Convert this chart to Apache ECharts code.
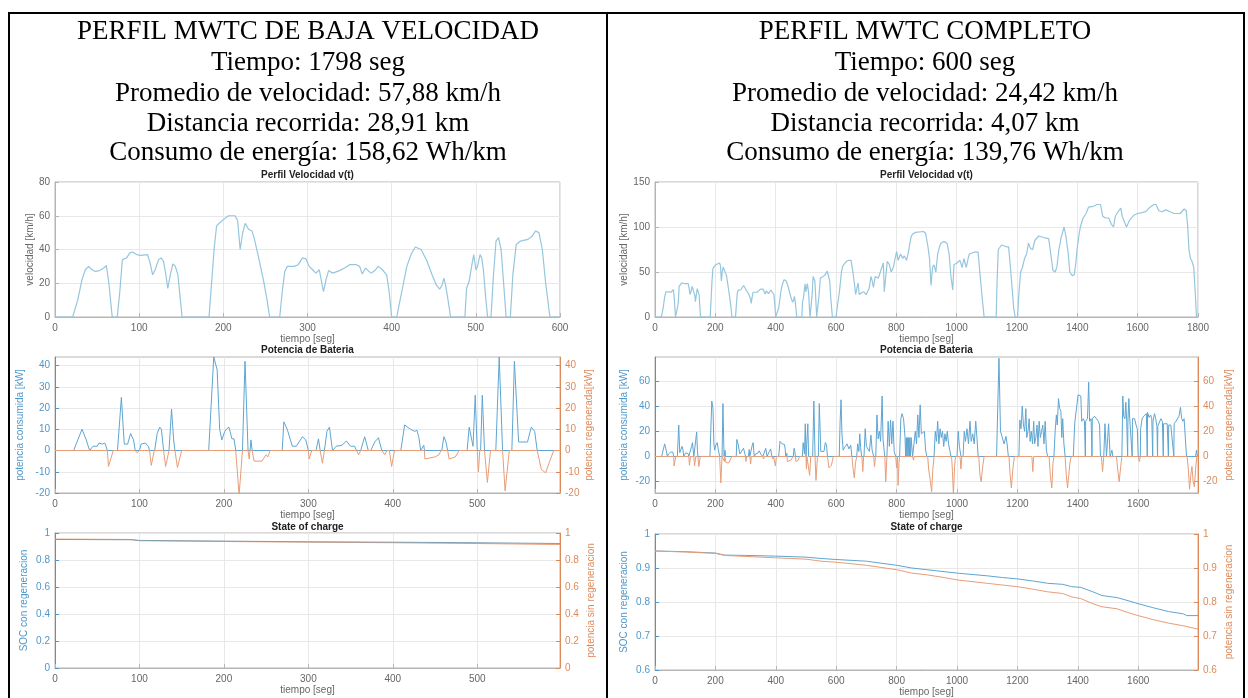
<!DOCTYPE html>
<html><head><meta charset="utf-8">
<script src="https://cdn.jsdelivr.net/npm/echarts@6/dist/echarts.min.js"></script>
<style>html,body{margin:0;padding:0;background:#fff}#c{width:1248px;height:698px}</style>
</head><body><div id="c"></div><script>
// ---------- header texts ----------
const headerLeft = ['PERFIL MWTC DE BAJA VELOCIDAD','Tiempo: 1798 seg','Promedio de velocidad: 57,88 km/h','Distancia recorrida: 28,91 km','Consumo de energía: 158,62 Wh/km'];
const headerRight = ['PERFIL MWTC COMPLETO','Tiempo: 600 seg','Promedio de velocidad: 24,42 km/h','Distancia recorrida: 4,07 km','Consumo de energía: 139,76 Wh/km'];
const plotTitles = ['Perfil Velocidad v(t)','Potencia de Bateria','State of charge'];

// ---------- tick labels ----------
const ticksTimeLow = [0,100,200,300,400,500,600];
const ticksTimeLowB = [0,100,200,300,400,500];
const ticksTimeFull = [0,200,400,600,800,1000,1200,1400,1600,1800];
const ticksTimeFullB = [0,200,400,600,800,1000,1200,1400,1600];
const ticksVelLow = [0,20,40,60,80];
const ticksVelFull = [0,50,100,150];
const ticksPowLow = [-20,-10,0,10,20,30,40];
const ticksPowFull = [-20,0,20,40,60];
const ticksSocLow = [0,0.2,0.4,0.6,0.8,1];
const ticksSocFull = [0.6,0.7,0.8,0.9,1];

// ---------- velocity [t, km/h] ----------
const lowSpeedProfile = [[0,0],[21,0],[27,10],[32,22],[36,28],[40,30],[44,28],[48,27],[53,27.5],[58,29],[61,30.5],[64,20],[68,0],[74,0],[77,15],[80,34],[85,35],[89,38],[92,38.5],[97,37],[102,36.5],[110,37],[113,32],[116,25],[119,28],[123,34],[126,35],[129,33],[132,24],[134,17],[137,25],[140,31.5],[143,30],[146,25],[149,10],[151,0],[183,0],[186,20],[189,40],[192,54],[196,56],[201,58],[206,60],[214,60],[217,57],[220,40],[223,50],[226,55.5],[230,52],[234,51],[237,46],[242,35],[248,21],[252,10],[255,0],[267,0],[270,15],[273,27],[276,30],[284,30],[289,31],[294,35],[298,34.5],[302,30],[306,28],[310,26],[314,28],[317,20],[319,15],[322,22],[325,27.5],[330,26],[338,27.5],[344,29],[350,31],[358,31],[362,30],[365,25.5],[369,29],[373,27],[376,26],[381,28],[384,30],[389,28],[394,25],[397,15],[400,0],[406,0],[410,10],[414,20],[418,30],[423,37],[428,41.5],[435,40],[442,33],[448,25],[453,19],[457,16.5],[460,19],[462,23],[464,19],[467,10],[470,0],[487,0],[489,17],[492,21],[495,30],[497.5,37],[500,28],[502,30],[505,37],[507,35],[509,28],[512,10],[514,0],[518,0],[521,25],[524,45],[527,47],[530,40],[533,20],[536,0],[541,0],[544,25],[548,43],[553,45],[562,46],[567,48],[571,51],[575,50],[579,40],[583,20],[588,0],[600,0]];
const fullSpeedRest = [[606,0],[612,30],[618,50],[623,57],[635,62],[643,63],[650,63],[655,52],[660,40],[665,25],[669,27],[673,38],[677,25],[685,27],[692,28],[700,25],[710,32],[716,45],[720,40],[724,33],[730,45],[740,43],[750,53],[757,60],[760,28],[765,45],[770,62],[777,58],[783,50],[790,55],[796,65],[801,73],[806,63],[814,70],[821,65],[826,68],[834,63],[840,72],[844,80],[848,88],[853,92],[864,94],[890,95],[897,93],[904,80],[910,65],[915,35],[920,55],[925,58],[931,50],[937,70],[943,78],[948,82],[957,84],[968,82],[975,70],[981,45],[987,30],[991,58],[1001,60],[1011,63],[1018,55],[1024,65],[1032,55],[1038,65],[1042,70],[1058,72],[1064,70],[1071,72],[1078,45],[1085,20],[1091,0],[1131,0],[1134,40],[1138,75],[1149,80],[1165,78],[1172,78],[1177,60],[1182,40],[1189,10],[1194,0],[1202,0],[1206,25],[1212,50],[1218,55],[1225,65],[1232,70],[1238,82],[1245,76],[1252,75],[1259,85],[1272,90],[1292,88],[1305,87],[1312,70],[1319,52],[1326,50],[1332,55],[1339,75],[1346,88],[1352,95],[1356,100],[1362,90],[1370,70],[1375,50],[1383,46],[1390,47],[1395,60],[1399,75],[1405,90],[1410,100],[1419,110],[1429,115],[1437,122],[1453,123],[1466,125],[1477,125],[1484,112],[1493,110],[1504,110],[1513,103],[1520,100],[1526,112],[1537,118],[1544,121],[1549,112],[1553,110],[1557,105],[1563,100],[1567,98],[1574,108],[1587,113],[1600,115],[1614,116],[1627,117],[1641,122],[1654,125],[1661,125],[1670,118],[1680,117],[1694,119],[1707,117],[1721,115],[1741,115],[1754,120],[1761,118],[1766,100],[1770,75],[1775,65],[1780,62],[1786,55],[1792,20],[1795,0],[1798,0]];

// ---------- battery power [t, kW] ----------
const lowPowerConsumed = [[0,0],[22,0],[32,10],[37,5],[39,4.5],[41,0],[45,2],[50,2],[52,3.5],[56,3],[59,3.5],[60,2.5],[62,0],[74,0],[78.6,25],[82,3],[86,3],[89.5,8],[93,5],[95,0],[100,0],[102,3],[107,3.5],[110.5,2],[112,0],[118,0],[121,8],[124,11],[126,10],[128.6,0],[135,0],[138,19.5],[140.5,5],[142,0],[182,0],[188,44],[192,38],[195,10],[197.6,5],[201,9],[203,10],[206,11],[209.5,5.5],[212,5.5],[214,0],[222,0],[225,42],[228.6,0],[231,0],[232,5],[233.5,0],[269,0],[271,13.5],[275,10],[281,2],[285.7,2],[293,6.5],[297,5],[300,0],[309,0],[312,5.5],[314,0],[319,0],[322,9],[325,11],[328.6,0],[330,0],[333,2],[340,2.5],[345,4.5],[350,2],[354.8,2],[357,0],[362,0],[366.7,6.5],[371,0],[374,0],[378.6,4],[383,6],[387,0],[409.5,0],[414,12],[421,10],[426,9],[428.6,9.5],[431,6],[433,0],[435,0],[436.7,2.5],[437.5,0],[458,0],[460.5,6.5],[463,4],[465,0],[488,0],[490.5,11],[495,2],[497.6,26],[500,0],[504,0],[506,26],[508.6,0],[522,0],[526,44],[530,0],[541,0],[544,42],[549,4],[559.5,4],[564,11],[568,9],[571,0],[598,0]];
const lowPowerRegen = [[0,0],[62,0],[63.3,-7.5],[69,0],[95,0],[97,-1],[100,0],[112,0],[114,-7],[117.6,0],[128.6,0],[131,-7.5],[135,0],[142,0],[145,-8],[150,0],[214,0],[218,-21],[222,0],[228.6,0],[230,-4],[231,0],[233.5,0],[235.7,-5],[245,-5],[250,-2],[252,-3],[254.8,0],[300,0],[301,-4],[304,0],[314,0],[316.7,-6],[319,0],[357,0],[359.5,-2],[362,0],[387,0],[390.5,-2],[393,0],[396,0],[398.6,-7.5],[402,0],[437.5,0],[438,-4],[450,-3],[454.8,-2],[457,0],[465,0],[466.7,-4],[474,-3],[478.6,0],[500,0],[501.4,-10],[503,0],[508.6,0],[512,-15],[515.7,0],[530,0],[533,-19],[538,0],[571,0],[576,-9],[581,-10.5],[584,-7],[590.5,0],[598,0]];
const fullPowerConsumedRest = [[600,0],[610,0],[613,28],[616,45],[619,18],[623,5],[630,8],[636,10],[642,6],[648,9],[652,0],[668,0],[671,10],[675,4],[678,18],[681,7],[684,0],[692,0],[696,22],[700,8],[705,8],[710,4],[715,17],[719,5],[724,0],[731,0],[735,33],[739,14],[743,20],[747,12],[752,48],[755,14],[759,4],[761,0],[768,0],[772,28],[776,8],[780,29],[784,10],[788,28],[792,4],[797,0],[810,0],[814,30],[818,34],[823,30],[828,15],[830,0],[832,15],[834,0],[836,15],[838,0],[840,15],[842,0],[844,15],[846,0],[848,15],[851,15],[853,0],[858,0],[862,20],[866,10],[870,33],[874,15],[878,41],[882,18],[887,17],[892,20],[896,5],[900,0],[924,0],[928,20],[932,12],[936,28],[940,10],[944,22],[948,15],[952,20],[956,8],[960,18],[964,12],[968,20],[972,10],[976,5],[980,0],[1000,0],[1004,20],[1008,8],[1013,0],[1020,0],[1024,20],[1028,12],[1033,22],[1038,10],[1043,28],[1047,12],[1052,18],[1057,10],[1062,28],[1066,15],[1070,0],[1131,0],[1135,40],[1139,78],[1142,78],[1144,20],[1150,20],[1156,10],[1162,16],[1166,10],[1170,0],[1205,0],[1208,29],[1212,22],[1216,40],[1220,25],[1224,20],[1228,38],[1231,15],[1235,20],[1239,30],[1242,12],[1246,20],[1250,10],[1254,28],[1257,10],[1261,15],[1265,25],[1268,8],[1272,28],[1276,15],[1280,20],[1284,25],[1288,10],[1292,28],[1296,5],[1300,0],[1321,0],[1325,20],[1329,33],[1332,25],[1336,46],[1340,38],[1344,36],[1347,15],[1350,30],[1354,10],[1358,0],[1385,0],[1390,27],[1396,28],[1401,49],[1406,49],[1410,48],[1413,28],[1418,30],[1422,28],[1425,0],[1426,28],[1432,30],[1436,59],[1439,28],[1444,30],[1447,0],[1448,30],[1455,32],[1462,30],[1468,28],[1472,25],[1475,0],[1486,0],[1490,26],[1493,26],[1495,0],[1497,0],[1499,15],[1502,26],[1505,26],[1507,0],[1510,0],[1513,5],[1516,0],[1546,0],[1549,48],[1552,32],[1556,30],[1559,43],[1562,28],[1565,0],[1566,28],[1569,46],[1572,30],[1576,31],[1580,0],[1581,30],[1588,30],[1593,25],[1597,22],[1600,0],[1607,0],[1608,22],[1613,30],[1618,32],[1623,31],[1627,34],[1630,0],[1631,35],[1636,31],[1641,33],[1645,30],[1648,0],[1649,28],[1654,34],[1658,30],[1662,24],[1664,0],[1665,24],[1670,25],[1675,30],[1680,28],[1683,0],[1684,26],[1690,25],[1696,26],[1700,0],[1701,25],[1708,25],[1714,26],[1718,0],[1719,26],[1725,28],[1730,29],[1735,32],[1740,39],[1744,30],[1748,28],[1752,30],[1756,29],[1760,0],[1790,0],[1793,5],[1796,0],[1798,0]];
const fullPowerRegenRest = [[600,0],[652,0],[656,-10],[660,-17],[664,-5],[668,0],[685,0],[688,-12],[691,0],[724,0],[727,-8],[730,0],[761,0],[764,-20],[768,0],[797,0],[800,-9],[803,0],[805,-23],[808,-5],[810,0],[853,0],[856,-3],[858,0],[903,0],[906,-10],[912,-20],[916,-28],[920,-10],[924,0],[982,0],[985,-12],[988,-30],[992,-8],[995,0],[1010,0],[1013,-10],[1016,0],[1072,0],[1076,-15],[1080,-20],[1085,-8],[1090,0],[1172,0],[1176,-15],[1180,-25],[1185,-10],[1190,0],[1248,0],[1251,-12],[1254,0],[1305,0],[1309,-15],[1314,-25],[1318,-5],[1321,0],[1358,0],[1362,-15],[1366,-25],[1370,-15],[1374,-5],[1378,0],[1478,0],[1482,-12],[1486,0],[1528,0],[1532,-10],[1537,-20],[1542,-8],[1546,0],[1600,0],[1604,-4],[1607,0],[1762,0],[1766,-10],[1770,-26],[1774,-15],[1778,-8],[1782,-20],[1786,-24],[1790,-10],[1794,0],[1798,0]];

// ---------- state of charge [t, SOC] ----------
const lowSocRegen = [[0,0.952],[90,0.95],[100,0.945],[200,0.94],[300,0.935],[400,0.932],[500,0.928],[598,0.922]];
const lowSocNoRegen = [[0,0.955],[90,0.952],[100,0.943],[200,0.937],[300,0.932],[400,0.928],[500,0.922],[598,0.915]];
const fullSocRegen = [[0,0.95],[100,0.948],[200,0.944],[230,0.938],[300,0.937],[400,0.935],[500,0.932],[550,0.928],[600,0.925],[700,0.92],[800,0.908],[850,0.9],[900,0.895],[950,0.89],[1000,0.885],[1100,0.877],[1150,0.872],[1200,0.868],[1250,0.862],[1300,0.855],[1350,0.852],[1380,0.845],[1410,0.843],[1450,0.83],[1480,0.819],[1530,0.813],[1570,0.803],[1600,0.795],[1650,0.783],[1700,0.772],[1750,0.765],[1760,0.76],[1798,0.76]];
const fullSocNoRegen = [[0,0.95],[100,0.947],[200,0.943],[230,0.937],[300,0.934],[400,0.93],[450,0.928],[500,0.926],[550,0.92],[600,0.917],[700,0.908],[800,0.895],[850,0.885],[900,0.88],[950,0.873],[1000,0.865],[1100,0.855],[1150,0.85],[1200,0.845],[1250,0.838],[1300,0.83],[1350,0.825],[1380,0.815],[1410,0.81],[1450,0.795],[1480,0.786],[1530,0.78],[1570,0.768],[1600,0.76],[1650,0.748],[1700,0.738],[1750,0.73],[1798,0.72]];

// ---------- styling ----------
const FONT = 'Liberation Sans, Arial, sans-serif';
const GRAY = '#666666', BLUE_T = '#4f97c9', ORANGE_T = '#dd8a5a';
const C_VEL = '#95c6dd', C_BLUE = '#5ea5d2', C_ORANGE = '#e79d78';
const BOX = '#b5b5b5', GRID = '#e8e8e8';

const grids = [
  {left:55, top:182, width:505, height:135},
  {left:655, top:182, width:543, height:135},
  {left:55, top:357, width:505, height:136},
  {left:655, top:357, width:543, height:136},
  {left:55, top:533, width:505, height:135},
  {left:655, top:534, width:543, height:141}
].map(g => Object.assign({show:true, borderColor:BOX, borderWidth:1, backgroundColor:'#fff'}, g));

const fmt = v => String(v);

function xAx(gi, max, ticks) {
  return {type:'value', gridIndex:gi, min:0, max:max, position:'bottom',
    name:'tiempo [seg]', nameLocation:'middle', nameGap:17,
    nameTextStyle:{color:GRAY, fontSize:10, fontFamily:FONT},
    axisLine:{show:true, onZero:false, lineStyle:{color:BOX}},
    axisTick:{show:true, inside:true, length:4, customValues:ticks, lineStyle:{color:BOX}},
    axisLabel:{color:GRAY, fontSize:10, fontFamily:FONT, margin:6, customValues:ticks, formatter:fmt},
    splitLine:{show:true, lineStyle:{color:GRID, width:1}}};
}
function yAx(gi, min, max, ticks, color, name, pos, gap) {
  return {type:'value', gridIndex:gi, min:min, max:max, position:pos,
    name:name, nameLocation:'middle', nameGap:gap, nameRotate:90,
    nameTextStyle:{color:color, fontSize:10, fontFamily:FONT},
    axisLine:{show:true, onZero:false, lineStyle:{color: color===GRAY ? BOX : color}},
    axisTick:{show:true, inside:true, length:4, customValues:ticks, lineStyle:{color: color===GRAY ? BOX : color}},
    axisLabel:{color:color, fontSize:10, fontFamily:FONT, margin:5, customValues:ticks, formatter:fmt},
    splitLine:{show: pos==='left', lineStyle:{color:GRID, width:1}}};
}

const xAxes = [
  xAx(0, 600, ticksTimeLow),
  xAx(1, 1800, ticksTimeFull),
  xAx(2, 598, ticksTimeLowB),
  xAx(3, 1798, ticksTimeFullB),
  xAx(4, 598, ticksTimeLowB),
  xAx(5, 1798, ticksTimeFullB)
];
const yAxes = [
  yAx(0, 0, 80, ticksVelLow, GRAY, 'velocidad [km/h]', 'left', 16),
  yAx(1, 0, 150, ticksVelFull, GRAY, 'velocidad [km/h]', 'left', 24),
  yAx(2, -20, 44, ticksPowLow, BLUE_T, 'potencia consumida [kW]', 'left', 30),
  yAx(2, -20, 44, ticksPowLow, ORANGE_T, 'potencia regenerada[kW]', 'right', 24),
  yAx(3, -29, 79, ticksPowFull, BLUE_T, 'potencia consumida [kW]', 'left', 26),
  yAx(3, -29, 79, ticksPowFull, ORANGE_T, 'potencia regenerada[kW]', 'right', 26),
  yAx(4, 0, 1, ticksSocLow, BLUE_T, 'SOC con regeneracion', 'left', 26),
  yAx(4, 0, 1, ticksSocLow, ORANGE_T, 'potencia sin regeneracion', 'right', 26),
  yAx(5, 0.6, 1, ticksSocFull, BLUE_T, 'SOC con regeneracion', 'left', 26),
  yAx(5, 0.6, 1, ticksSocFull, ORANGE_T, 'potencia sin regeneracion', 'right', 26)
];

function line(data, xi, yi, color, w) {
  return {type:'line', data:data, xAxisIndex:xi, yAxisIndex:yi, showSymbol:false, symbol:'none',
    lineStyle:{color:color, width:w||1}, itemStyle:{color:color}, silent:true, animation:false};
}
const series = [
  line(lowSpeedProfile, 0, 0, C_VEL, 1.2),
  line(lowSpeedProfile.concat(fullSpeedRest), 1, 1, C_VEL, 1.2),
  line(lowPowerConsumed, 2, 2, C_BLUE),
  line(lowPowerRegen, 2, 3, C_ORANGE),
  line(lowPowerConsumed.concat(fullPowerConsumedRest), 3, 4, C_BLUE),
  line(lowPowerRegen.concat(fullPowerRegenRest), 3, 5, C_ORANGE),
  line(lowSocNoRegen, 4, 7, C_ORANGE),
  line(lowSocRegen, 4, 6, '#7f9fb3'),
  line(fullSocRegen, 5, 8, C_BLUE),
  line(fullSocNoRegen, 5, 9, C_ORANGE)
];

// ---------- graphics: table borders, header texts, subplot titles ----------
const graphic = [];
const B = {stroke:'#000', lineWidth:2};
graphic.push({type:'line', shape:{x1:8, y1:13, x2:1245, y2:13}, style:B, silent:true});
graphic.push({type:'line', shape:{x1:9, y1:12, x2:9, y2:698}, style:B, silent:true});
graphic.push({type:'line', shape:{x1:607, y1:12, x2:607, y2:698}, style:B, silent:true});
graphic.push({type:'line', shape:{x1:1244, y1:12, x2:1244, y2:698}, style:B, silent:true});
const headerY = [32, 63, 94, 124, 153];
headerLeft.forEach((t,i)=>graphic.push({type:'text', x:308, y:headerY[i], silent:true,
  style:{text:t, fill:'#000', font:'27px "Liberation Serif", "Times New Roman", serif', textAlign:'center', textVerticalAlign:'middle'}}));
headerRight.forEach((t,i)=>graphic.push({type:'text', x:925, y:headerY[i], silent:true,
  style:{text:t, fill:'#000', font:'27px "Liberation Serif", "Times New Roman", serif', textAlign:'center', textVerticalAlign:'middle'}}));
const titleY = [175, 350, 527];
[0,1].forEach(side=>{
  const g0 = side===0 ? grids[0] : grids[1];
  const cx = g0.left + g0.width/2;
  titleY.forEach((y,i)=>graphic.push({type:'text', x:cx, y:y, silent:true,
    style:{text:plotTitles[i], fill:'#222', font:'bold 10px "Liberation Sans", Arial, sans-serif', textAlign:'center', textVerticalAlign:'middle'}}));
});

const chart = echarts.init(document.getElementById('c'), null, {renderer:'canvas'});
chart.setOption({animation:false, backgroundColor:'#fff', grid:grids, xAxis:xAxes, yAxis:yAxes, series:series, graphic:graphic});
</script></body></html>
